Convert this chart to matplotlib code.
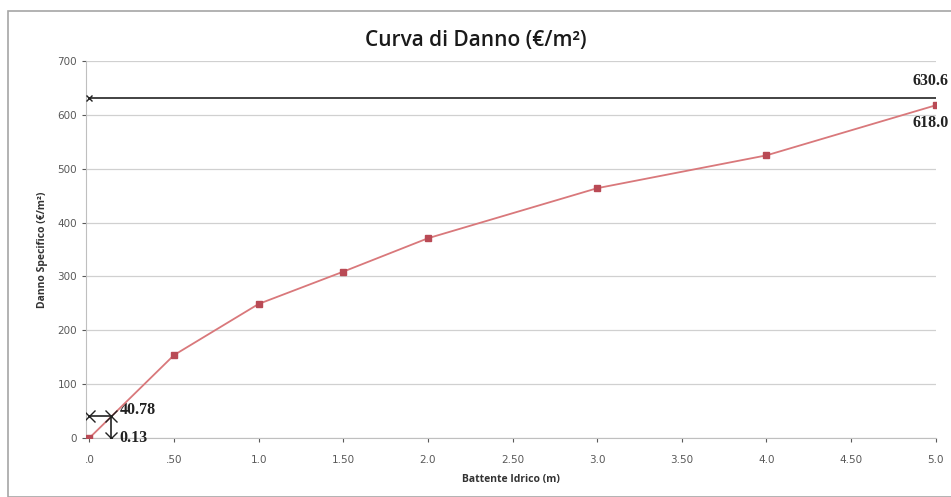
import matplotlib.pyplot as plt
from matplotlib.patches import Rectangle

# curve data (battente idrico in m, danno specifico in EUR/m2)
depth = [0.0, 0.5, 1.0, 1.5, 2.0, 3.0, 4.0, 5.0]
damage = [0.0, 154, 249, 309, 371, 464, 525, 618.0]
xtick_vals = [0.0, 0.5, 1.0, 1.5, 2.0, 2.5, 3.0, 3.5, 4.0, 4.5, 5.0]
xtick_labels = ['.0', '.50', '1.0', '1.50', '2.0', '2.50', '3.0', '3.50', '4.0', '4.50', '5.0']

max_damage = 630.6
h_point = 0.13
h_damage = 40.78

fig = plt.figure(figsize=(9.51, 4.97), dpi=100)
fig.patches.append(Rectangle((0.008, 0.0), 1.0, 0.978, transform=fig.transFigure,
                             fill=False, edgecolor='#a6a6a6', linewidth=1.2))
ax = fig.add_axes([0.0904, 0.1187, 0.8936, 0.7583])

# grid
ax.set_axisbelow(True)
ax.yaxis.grid(True, color='#d0d0d0', linewidth=0.9)

# max damage line
ax.plot([0, 5.0], [max_damage, max_damage], color='#222222', linewidth=1.2,
        marker='x', markersize=4, markevery=[0], zorder=3)

# main curve
ax.plot(depth, damage, color='#d9787b', linewidth=1.3, zorder=4)
ax.plot(depth, damage, linestyle='none', marker='s', markersize=5,
        color='#b94a55', zorder=5)

# reference crosses
ax.plot([0, h_point, h_point], [h_damage, h_damage, 0], color='#222222',
        linewidth=1.2, marker='x', markersize=8, mew=1.0, zorder=6)

bold_serif = dict(family='Liberation Serif', fontweight='bold', fontsize=11.5, color='#222222')
ax.text(h_point + 0.05, h_damage + 12, '40.78', ha='left', va='center', **bold_serif)
ax.text(h_point + 0.05, 0, '0.13', ha='left', va='center', **bold_serif)
ax.annotate('630.6', xy=(5.0, max_damage + 33), xytext=(13, 0), textcoords='offset pixels',
            ha='right', va='center', annotation_clip=False, **bold_serif)
ax.annotate('618.0', xy=(5.0, damage[-1] - 33), xytext=(13, 0), textcoords='offset pixels',
            ha='right', va='center', annotation_clip=False, **bold_serif)

ax.set_xlim(-0.02, 5.0)
ax.set_ylim(0, 700)
ax.set_xticks(xtick_vals)
ax.set_xticklabels(xtick_labels)
ax.set_yticks(range(0, 701, 100))
ax.tick_params(axis='both', labelsize=7.5, colors='#595959', length=3, width=0.8)
ax.tick_params(axis='x', pad=9)

for side in ['top', 'right']:
    ax.spines[side].set_visible(False)
for side in ['left', 'bottom']:
    ax.spines[side].set_color('#bfbfbf')

ax.set_xlabel('Battente Idrico (m)', fontsize=7.5, fontweight='bold', color='#333333',
              family='Open Sans', labelpad=7)
ax.set_ylabel('Danno Specifico (€/m²)', fontsize=7.5, fontweight='bold', color='#333333',
              family='Open Sans', labelpad=7)
fig.text(0.5, 0.918, 'Curva di Danno (€/m²)', ha='center', va='center',
         fontsize=15, family='Open Sans', fontweight='semibold', color='#1a1a1a')

fig.savefig('out.png', dpi=100)
